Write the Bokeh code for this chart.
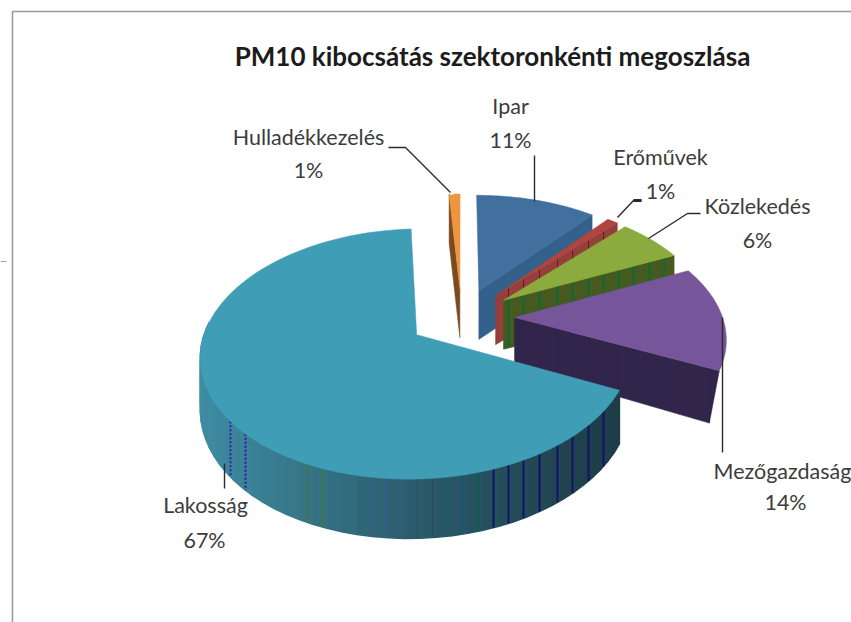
import numpy as np
from bokeh.plotting import figure
from bokeh.core.properties import value
from bokeh.embed import file_html
from bokeh.resources import INLINE

# --- data ---
categories = ["Ipar", "Erőművek", "Közlekedés", "Mezőgazdaság", "Lakosság", "Hulladékkezelés"]
shares = [11, 1, 6, 14, 67, 1]
pct_labels = ["11%", "1%", "6%", "14%", "67%", "1%"]
title_text = "PM10 kibocsátás szektoronkénti megoszlása"

# --- style ---
top_colors = ["#41709F", "#B0453F", "#8CAB3E", "#77559A", "#3F9DB6", "#EE9540"]
wall_colors = ["#33618C", "#93403A", "#46591F", "#32254A", "#2C5E6E", "#7A4A20"]
stripe_colors = ["#2A6A88", "#6A1A1A", "#0F6B35", "#252650", "#12126E", "#7A4A20"]
wall_inset = [0, 0, 0, 10, 0, 0]
CX, CY, RX, RY, K, EXPL, H = 461.0, 317.0, 208.0, 117.0, 0.151, 0.255, 49.0
FONT = "Lato"
TXT = "#3c3c3c"

W, HT = 851, 622
p = figure(width=W, height=HT, x_range=(0, 851), y_range=(622, 0), toolbar_location=None,
           output_backend="svg", min_border=0, outline_line_color=None, background_fill_color="white")
p.axis.visible = False
p.grid.visible = False


def project(X, Z, dh=0.0):
    w = 1.0 / (1.0 - K * Z)
    return CX + RX * X * w, CY + RY * Z * w + dh * np.maximum(w, 1.0)


def rim(t, mid):
    X = EXPL * np.sin(mid) + np.sin(t)
    Z = -EXPL * np.cos(mid) - np.cos(t)
    return X, Z


def stripes(xs, colors, xt, yt, xb, yb, dash="solid", width=1.6):
    o1, o2 = np.argsort(xt), np.argsort(xb)
    for x, c in zip(xs, colors):
        if x < min(xt.min(), xb.min()) or x > max(xt.max(), xb.max()):
            continue
        y1 = np.interp(x, xt[o1], yt[o1])
        y2 = np.interp(x, xb[o2], yb[o2])
        p.line([x, x], [y1, y2], line_color=c, line_width=width, line_dash=dash)


def lerp_hex(stops, x):
    xs = [s[0] for s in stops]
    rgb = [[int(s[1][i:i + 2], 16) for s in stops] for i in (1, 3, 5)]
    return "#%02x%02x%02x" % tuple(int(np.interp(x, xs, ch)) for ch in rgb)


edges = np.cumsum([0] + shares) / sum(shares) * 2 * np.pi
grid_x = [508, 523, 539, 557, 572, 588, 603, 618, 633, 649, 664, 679, 694, 709]

for i in [5, 0, 1, 2, 3, 4]:
    a0, a1 = edges[i], edges[i + 1]
    mid = (a0 + a1) / 2
    mx, mz = EXPL * np.sin(mid), -EXPL * np.cos(mid)
    t = np.linspace(a0, a1, 90)
    X, Z = rim(t, mid)
    ax, ay = project(mx, mz)
    bx, by = project(mx, mz, H)
    # radial wall
    if i != 4:
        ea = a0 if i == 5 else a1
        ex, ez = rim(np.array([ea]), mid)
        e1x, e1y = project(ex, ez)
        e2x, e2y = project(ex, ez, H)
        e2x = e2x - wall_inset[i]
        p.patch([ax, e1x[0], e2x[0], bx], [ay, e1y[0], e2y[0], by],
                fill_color=wall_colors[i], line_color=wall_colors[i], line_width=0.5)
        if i != 5:
            stripes(grid_x, [stripe_colors[i]] * len(grid_x),
                    np.array([ax, e1x[0]]), np.array([ay, e1y[0]]),
                    np.array([bx, e2x[0]]), np.array([by, e2y[0]]),
                    width=2.0 if i == 2 else 1.0)
    if i == 4:
        tt = np.linspace(a0, np.radians(276), 45)
        wX, wZ = rim(tt, mid)
        x1, y1 = project(wX, wZ)
        x2, y2 = project(wX, wZ, H)
        stops = [(205, "#3F8CA2"), (300, "#37788A"), (420, "#2C5D6D"), (520, "#244B58"), (615, "#1E3D48")]
        for j in range(len(tt) - 1):
            c = lerp_hex(stops, x1[j])
            p.patch([x1[j], x1[j + 1], x2[j + 1], x2[j]], [y1[j], y1[j + 1], y2[j + 1], y2[j]],
                    fill_color=c, line_color=c, line_width=1.5)
        dotted_x = [230, 245, 307, 322, 370, 385]
        dotted_c = ["#3A14B4", "#3A14B4", "#4E7A12", "#4E7A12", "#44509A", "#44509A"]
        solid_x = [417, 432, 447, 462, 478, 493, 508, 523, 539, 557, 572, 588, 603]
        solid_c = ["#2A5560", "#2A5060", "#1B5B6C", "#115A70", "#0E5A50", "#12126E", "#12126E", "#12126E",
                   "#12126E", "#12126E", "#12126E", "#12126E", "#12126E"]
        o = x1.argsort()
        o2 = x2.argsort()
        for x, c in zip(dotted_x + solid_x, dotted_c + solid_c):
            yy1 = np.interp(x, x1[o], y1[o])
            yy2 = np.interp(x, x2[o2], y2[o2])
            p.line([x, x], [yy1, yy2], line_color=c, line_width=2.0,
                   line_dash="2 2" if x < 400 else "solid")
    # top face
    tx, ty = project(X, Z)
    p.patch(np.r_[ax, tx], np.r_[ay, ty], fill_color=top_colors[i], line_color=top_colors[i], line_width=0.5)

# frame
p.line([12, 12, 851], [622, 11, 11], line_color="#9c9c9c", line_width=1.6)
p.line([0, 6], [261, 261], line_color="#9c9c9c", line_width=1.2)

# leaders
for xs, ys in [([534, 534], [155, 201]),
               ([641, 633, 617], [200, 200, 217]),
               ([700, 687, 648], [213, 213, 238]),
               ([722, 722], [317, 452]),
               ([388, 405, 450], [147, 147, 192]),
               ([224, 224], [463, 488])]:
    p.line(xs, ys, line_color="#2a2a2a", line_width=1.4)
p.line([633, 641], [200, 200], line_color="#2a2a2a", line_width=3)

# texts
name_pos = [(510, 105), (660, 156), (757, 205), (782, 470), (205, 504), (308, 136)]
pct_pos = [(510, 139), (660, 190), (757, 239), (785, 501), (204, 539), (308, 169)]
for (x, y), s in zip(name_pos, categories):
    p.text([x], [y], text=[s], text_font=value(FONT), text_font_size="21.5px", text_color=TXT,
           text_align="center", text_baseline="middle")
for (x, y), s in zip(pct_pos, pct_labels):
    p.text([x], [y], text=[s], text_font=value(FONT), text_font_size="21.5px", text_color=TXT,
           text_align="center", text_baseline="middle")
p.text([492], [55], text=[title_text], text_font=value(FONT), text_font_size="26px", text_font_style="bold",
       text_color="#1c1c1c", text_align="center", text_baseline="middle")

open("out.html", "w").write(file_html(p, INLINE))
